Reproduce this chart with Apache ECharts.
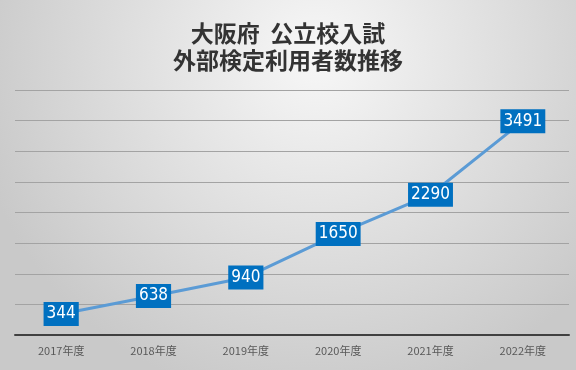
<!DOCTYPE html>
<html><head><meta charset="utf-8">
<script src="https://cdn.jsdelivr.net/npm/echarts@6/dist/echarts.min.js"></script>
<style>html,body{margin:0;padding:0;}#c{width:576px;height:370px;}</style>
</head><body><div id="c"></div>
<script>
const categories = ['2017年度','2018年度','2019年度','2020年度','2021年度','2022年度'];
const values = [344, 638, 940, 1650, 2290, 3491];
const titleText = '大阪府  公立校入試\n外部検定利用者数推移';

const chart = echarts.init(document.getElementById('c'));
chart.setOption({
  backgroundColor: {
    type: 'radial', x: 0.55, y: 0.15, r: 0.95,
    colorStops: [{offset: 0, color: '#f7f7f7'}, {offset: 1, color: '#c9c9c9'}]
  },
  title: {
    text: titleText, left: 'center', top: 15,
    textStyle: {fontFamily: 'Noto Sans CJK JP', fontSize: 23, fontWeight: 'bold', color: '#333333', lineHeight: 27}
  },
  grid: {left: 15, right: 7, top: 90, bottom: 35},
  xAxis: {
    type: 'category', data: categories, boundaryGap: true,
    axisLine: {lineStyle: {color: '#404040', width: 2}},
    axisTick: {show: false},
    axisLabel: {color: '#595959', fontSize: 11, margin: 10, fontFamily: 'Noto Sans CJK JP'}
  },
  yAxis: {
    type: 'value', min: 0, max: 4000, interval: 500,
    axisLabel: {show: false}, axisLine: {show: false}, axisTick: {show: false},
    splitLine: {lineStyle: {color: '#a3a3a3', width: 1}}
  },
  series: [{
    type: 'line', data: values,
    symbol: 'circle', symbolSize: 1,
    itemStyle: {color: '#5b9bd5'},
    lineStyle: {color: '#5b9bd5', width: 3},
    label: {
      show: true, position: 'inside',
      backgroundColor: '#0070c0', color: '#ffffff',
      fontFamily: "'DejaVu Sans Condensed', 'Liberation Sans Narrow', sans-serif", fontSize: 17,
      padding: [4, 3, 3, 3]
    }
  }]
});
</script></body></html>
